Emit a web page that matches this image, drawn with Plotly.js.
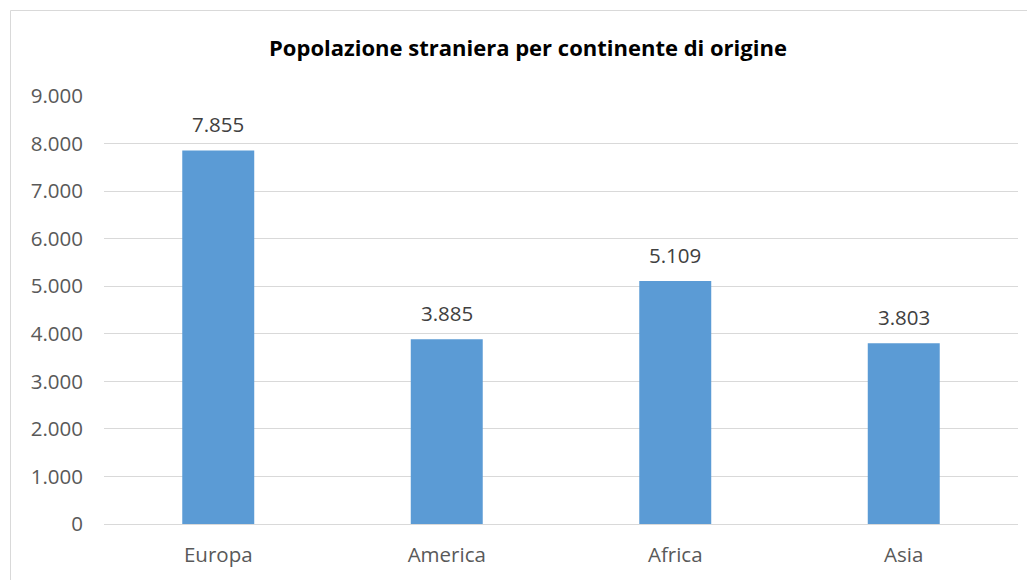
<!DOCTYPE html>
<html>
<head>
<meta charset="utf-8">
<script src="https://cdn.plot.ly/plotly-3.0.1.min.js"></script>
<style>
html, body { margin: 0; padding: 0; background: #fff; }
#chart { width: 1027px; height: 580px; }
</style>
</head>
<body>
<div id="chart"></div>
<script>
const categories = ["Europa", "America", "Africa", "Asia"];
const values = [7855, 3885, 5109, 3803];
const tickValues = [0, 1000, 2000, 3000, 4000, 5000, 6000, 7000, 8000, 9000];
const tickLabels = ["0", "1.000", "2.000", "3.000", "4.000", "5.000", "6.000", "7.000", "8.000", "9.000"];
const chartTitle = "Popolazione straniera per continente di origine";

function fmt(v) {
  return String(v).replace(/\B(?=(\d{3})+(?!\d))/g, ".");
}

const FONT = "Open Sans, Liberation Sans, sans-serif";

const trace = {
  type: "bar",
  x: categories,
  y: values,
  marker: { color: "#5B9BD5" },
  hoverinfo: "x+y"
};

const annotations = categories.map((c, i) => ({
  x: c, y: values[i], xref: "x", yref: "y",
  text: fmt(values[i]),
  showarrow: false,
  yanchor: "bottom",
  yshift: 10,
  font: { family: FONT, size: 20.5, color: "#404040" }
}));

const layout = {
  width: 1027, height: 580,
  margin: { l: 104, r: 9, t: 96, b: 56 },
  paper_bgcolor: "#ffffff",
  plot_bgcolor: "#ffffff",
  separators: ",.",
  bargap: 0.685,
  showlegend: false,
  title: {
    text: "<b>" + chartTitle + "</b>",
    font: { family: FONT, size: 22, color: "#000000" },
    xref: "container", x: 528 / 1027, xanchor: "center",
    yref: "container", y: 1 - 48 / 580, yanchor: "middle"
  },
  xaxis: {
    type: "category",
    showgrid: false,
    showline: false,
    zeroline: false,
    ticks: "",
    ticklabelstandoff: 16,
    tickfont: { family: FONT, size: 20.5, color: "#595959" }
  },
  yaxis: {
    range: [0, 9000],
    tickvals: tickValues,
    ticktext: tickLabels,
    showgrid: true,
    gridcolor: "#D9D9D9",
    gridwidth: 1,
    zeroline: true,
    zerolinecolor: "#D9D9D9",
    zerolinewidth: 1,
    showline: false,
    ticks: "",
    ticklabelstandoff: 20,
    tickfont: { family: FONT, size: 20.5, color: "#595959" },
    fixedrange: true
  },
  annotations: annotations,
  shapes: [{
    type: "rect", xref: "paper", yref: "paper",
    x0: (10.5 - 104) / 914, x1: (1040 - 104) / 914,
    y0: (524 - 600) / 428, y1: (524 - 10.5) / 428,
    line: { color: "#D9D9D9", width: 1 },
    fillcolor: "rgba(0,0,0,0)",
    layer: "below"
  }]
};

Plotly.newPlot("chart", [trace], layout, { displayModeBar: false, staticPlot: true });
</script>
</body>
</html>
